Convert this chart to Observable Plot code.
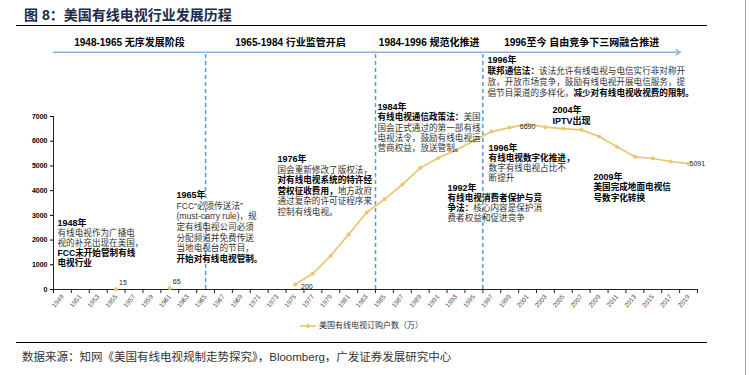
<!DOCTYPE html>
<html><head><meta charset="utf-8">
<script src="https://cdn.jsdelivr.net/npm/d3@7"></script>
<script src="https://cdn.jsdelivr.net/npm/@observablehq/plot@0.6"></script>
<style>
html,body{margin:0;padding:0;background:#fff;}
#wrap{position:relative;width:749px;height:375px;overflow:hidden;font-family:"Liberation Sans","Noto Sans CJK SC",sans-serif;}
#title{position:absolute;left:24px;top:5px;font-size:14px;font-weight:bold;color:#1a2b4c;line-height:20px;white-space:nowrap;}
.hr{position:absolute;left:16px;width:691px;height:0;border-top:1.5px solid #000;}
#src{position:absolute;left:22px;top:349px;font-size:11.5px;color:#333;white-space:nowrap;line-height:16px;}
#legend{position:absolute;left:300px;top:320px;font-size:8px;color:#333;white-space:nowrap;line-height:12px;display:flex;align-items:center;}
#legend svg{margin-right:3px;}
#vborder{position:absolute;left:745px;top:0;width:0;height:375px;border-left:1px solid #aaa;}
#chart{position:absolute;left:0;top:0;}
</style></head>
<body>
<div id="wrap">
  <div id="chart"></div>
  <div id="title">图 8：美国有线电视行业发展历程</div>
  <div class="hr" style="top:25px"></div>
  <div id="legend"></div>
  <div class="hr" style="top:342px"></div>
  <div id="src">数据来源：知网《美国有线电视规制走势探究》，Bloomberg，广发证券发展研究中心</div>
  <div id="vborder"></div>
</div>
<script>
// ---- data ----
const years = [1949,1951,1953,1955,1957,1959,1961,1963,1965,1967,1969,1971,1973,1975,1977,1979,1981,1983,1985,1987,1989,1991,1993,1995,1997,1999,2001,2003,2005,2007,2009,2011,2013,2015,2017,2019];
const subscribers = [null,null,null,15,null,null,65,null,null,null,null,null,null,200,645,1370,2230,3115,3650,4245,4920,5320,5640,6020,6390,6550,6690,6570,6510,6460,6190,5775,5370,5300,5180,5091];
const tickYears = [1948,1950,1952,1954,1956,1958,1960,1962,1964,1966,1968,1970,1972,1974,1976,1978,1980,1982,1984,1986,1988,1990,1992,1994,1996,1998,2000,2002,2004,2006,2008,2010,2012,2014,2016,2018,2020];
const yTicks = [0,1000,2000,3000,4000,5000,6000,7000];
const labelYears = [1955,1961,1975,2001,2019];
const seriesName = "美国有线电视订购户数（万）";

const phaseStarts = [1948,1965,1984,1996];
const phaseEnds = [1965,1984,1996,2018.1];
const phaseLabels = ["1948-1965 无序发展阶段","1965-1984 行业监管开启","1984-1996 规范化推进","1996至今 自由竞争下三网融合推进"];

// annotations: anchor (year, value) and lines of [text, style]
const notes = [
  {year:1948.45, value:2683, lh:10, lines:[
    [["1948年","h"]],
    [["有线电视作为广播电","r"]],
    [["视的补充出现在美国，","r"]],
    [["FCC未开始管制有线","b"]],
    [["电视行业","b"]]]},
  {year:1961.75, value:3816, lh:10.7, lines:[
    [["1965年","h"]],
    [["FCC“必须传送法”","r"]],
    [["(must-carry rule)，规","r"]],
    [["定有线电视公司必须","r"]],
    [["分配频道并免费传送","r"]],
    [["当地电视台的节目，","r"]],
    [["开始对有线电视管制。","b"]]]},
  {year:1973.04, value:5272, lh:10.6, lines:[
    [["1976年","h"]],
    [["国会重新修改了版权法，","r"]],
    [["对有线电视系统的特许经","b"]],
    [["营权征收费用，","b"],["地方政府","r"]],
    [["通过复杂的许可证程序来","r"]],
    [["控制有线电视。","r"]]]},
  {year:1984.22, value:7376, lh:10.3, lines:[
    [["1984年","h"]],
    [["有线电视通信政策法：","b"],["美国","r"]],
    [["国会正式通过的第一部有线","r"]],
    [["电视法令，鼓励有线电视运","r"]],
    [["营商权益，放送管制。","r"]]]},
  {year:1992.05, value:4099, lh:10.1, lines:[
    [["1992年","h"]],
    [["有线电视消费者保护与竞","b"]],
    [["争法：","b"],["核心内容是保护消","r"]],
    [["费者权益和促进竞争","r"]]]},
  {year:1996.64, value:5717, lh:10.1, lines:[
    [["1996年","h"]],
    [["有线电视数字化推进，","b"]],
    [["数字有线电视占比不","r"]],
    [["断提升","r"]]]},
  {year:1996.52, value:9278, lh:11, lines:[
    [["1996年","h"]],
    [["联邦通信法：","b"],["该法允许有线电视与电信实行非对称开","r"]],
    [["放，开放市场竞争，鼓励有线电视开展电信服务，提","r"]],
    [["倡节目渠道的多样化，","r"],["减少对有线电视收视费的限制。","b"]]]},
  {year:2003.8, value:7255, lh:11, lines:[
    [["2004年","h"]],
    [["IPTV出现","h"]]]},
  {year:2008.37, value:4544, lh:10.5, lines:[
    [["2009年","h"]],
    [["美国完成地面电视信","b"]],
    [["号数字化转换","b"]]]}
];

// ---- layout ----
const W = 749, H = 375, ML = 53, MR = 52, MT = 116, MB = 86;
const xDomain = [1948, 2020], yDomain = [0, 7000];
const pxPerYear = (W - ML - MR) / (xDomain[1] - xDomain[0]);
const pxPerVal = (H - MT - MB) / (yDomain[1] - yDomain[0]);
const FONT = "'Liberation Sans','Noto Sans CJK SC',sans-serif";
const gold = "#EAC76F";
const sizes = {h: 9, b: 8.6, r: 8.6};
const weights = {h: "bold", b: "bold", r: "normal"};
const fills = {h: "#000", b: "#000", r: "#333"};

const ctx = document.createElement("canvas").getContext("2d");
function measure(t, st) {
  ctx.font = `${weights[st]} ${sizes[st]}px ${FONT}`;
  return ctx.measureText(t).width;
}

const segs = [];
notes.forEach(n => {
  n.lines.forEach((line, i) => {
    let dx = 0;
    line.forEach(([t, st]) => {
      segs.push({x: n.year + dx / pxPerYear, y: n.value - (i * n.lh) / pxPerVal, text: t, st});
      dx += measure(t, st);
    });
  });
});

const data = years.map((y, i) => ({year: y, value: subscribers[i]}));
const labels = data.filter(d => labelYears.includes(d.year));
const phases = phaseStarts.map((s, i) => ({start: s, end: phaseEnds[i], label: phaseLabels[i]}));
const arrowY = 9600, headerY = 10000;

const chart = Plot.plot({
  width: W, height: H,
  marginLeft: ML, marginRight: MR, marginTop: MT, marginBottom: MB,
  x: {domain: xDomain},
  y: {domain: yDomain},
  style: {fontFamily: FONT, background: "transparent", overflow: "visible"},
  marks: [
    Plot.ruleX(phaseStarts.slice(1), {y1: 0, y2: arrowY, stroke: "#5B9BD5", strokeWidth: 1.5, strokeDasharray: "4,3"}),
    Plot.arrow(phases.slice(0, 1), {x1: phaseStarts[0], x2: phaseEnds[3], y1: arrowY, y2: arrowY, stroke: "#86B2DE", strokeWidth: 1.3, headLength: 6}),
    Plot.text(phases, {x: d => (d.start + d.end) / 2, y: headerY, text: "label", fontWeight: "bold", fontSize: 10, fill: "#000"}),
    Plot.axisY({ticks: yTicks, tickSize: 3, tickPadding: 3, tickFormat: d => String(d), fontSize: 7, fontWeight: "bold", color: "#000", label: null}),
    Plot.axisX({ticks: tickYears, tickSize: 4, tickFormat: () => "", color: "#222", label: null}),
    Plot.axisX({ticks: years, tickSize: 0, tickPadding: 6, tickRotate: -50, tickFormat: d => String(d), fontSize: 6.5, color: "#444", label: null}),
    Plot.ruleX([xDomain[0]], {y1: 0, y2: 7000, stroke: "#222"}),
    Plot.ruleY([0], {stroke: "#222"}),
    Plot.line(data, {x: "year", y: "value", stroke: gold, strokeWidth: 1.7}),
    Plot.dot(data, {x: "year", y: "value", r: 2, fill: gold, stroke: "none"}),
    Plot.text(labels.filter(d => d.year < 1970), {x: "year", y: "value", text: d => String(d.value), textAnchor: "start", dx: 3, dy: -6, fontSize: 7, fill: "#222"}),
    Plot.text(labels.filter(d => d.year === 1975), {x: "year", y: "value", text: d => String(d.value), textAnchor: "start", dx: 6, dy: 2, fontSize: 7, fill: "#222"}),
    Plot.text(labels.filter(d => d.year === 2001), {x: "year", y: "value", text: d => String(d.value), dy: 3, fontSize: 7, fill: "#222"}),
    Plot.text(labels.filter(d => d.year === 2019), {x: "year", y: "value", text: d => String(d.value), textAnchor: "start", dx: 1, fontSize: 7, fill: "#222"}),
    ...["h", "b", "r"].map(st => Plot.text(segs.filter(s => s.st === st), {x: "x", y: "y", text: "text", textAnchor: "start", fontSize: sizes[st], fontWeight: weights[st], fill: fills[st]}))
  ]
});
document.getElementById("chart").appendChild(chart);

document.getElementById("legend").innerHTML =
  `<svg width="16" height="6"><line x1="0" y1="3" x2="16" y2="3" stroke="${gold}" stroke-width="1.6"/><circle cx="8" cy="3" r="2" fill="${gold}"/></svg><span>${seriesName}</span>`;
</script>
</body></html>
